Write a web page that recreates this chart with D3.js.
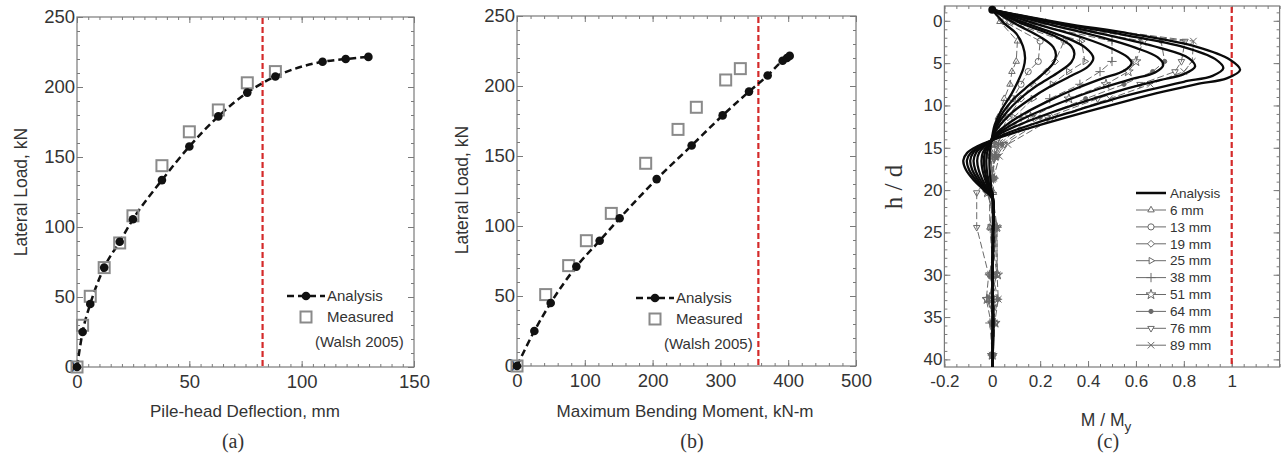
<!DOCTYPE html>
<html>
<head>
<meta charset="utf-8">
<script src="https://cdn.jsdelivr.net/npm/d3@7"></script>
<style>
  body { margin: 0; background: #fff; }
  svg text { font-family: "Liberation Sans", Arial, sans-serif; fill: #333; }
  .serif { font-family: "Liberation Serif", "Times New Roman", serif !important; }
</style>
</head>
<body>
<div id="container"></div>
<script>
/* CONSTANTS AND GLOBALS */
const width = 1283,
  height = 457;

/* DATA */
// (a) and (b): pile head load test
const analysisLoad = [0, 25, 45, 71, 89.5, 105.5, 133.5, 157.5, 179, 196, 207.5, 218, 220, 221.5];
const analysisDeflection = [0, 2.5, 5.9, 12.1, 19, 24.9, 37.8, 50, 62.9, 75.8, 88.3, 109.3, 119.6, 129.7];
const analysisMoment = [0, 25.6, 49.7, 87.5, 121.9, 151.4, 206, 257.6, 303.3, 342.2, 369.7, 391.8, 398.2, 402.2];

const measuredDeflection = [0, 2.5, 5.9, 12.1, 19, 24.9, 37.8, 50, 62.9, 75.8, 88.3];
const measuredLoadA = [0, 29.8, 50.5, 71, 88.6, 108, 143.8, 168, 183.6, 203, 211];
const measuredMoment = [0, 42.3, 76.2, 102.3, 139.1, 189.8, 237.5, 264.5, 307.8, 329.4];
const measuredLoadB = [0, 51, 71.7, 89.5, 109, 144.8, 169, 184.8, 204.3, 212.4];

const yieldDeflection = 82.6;
const yieldMoment = 356;

// (c): moment profiles, [M/My, h/d]
const analysisProfiles = [
  [[0,-1.3],[0.05,0.3],[0.1,1.5],[0.128,3.0],[0.137,4.4],[0.13,5.6],[0.116,6.6],[0.081,8.6],[0.039,10.5],[0.01,12.3],[0,13.6],[-0.007,14.8],[-0.011,15.6],[-0.012,16.5],[-0.011,17.6],[-0.007,18.9],[-0.003,20.0],[0,20.3]],
  [[0,-1.3],[0.1,0.4],[0.2,1.9],[0.255,3.1],[0.266,4.05],[0.255,5.0],[0.21,6.3],[0.15,7.7],[0.09,9.2],[0.045,10.8],[0.015,12.4],[0,13.8],[-0.013,14.8],[-0.022,15.6],[-0.025,16.5],[-0.023,17.6],[-0.016,18.9],[-0.007,20.0],[0,20.3]],
  [[0,-1.3],[0.13,0.4],[0.26,1.8],[0.33,3.0],[0.343,3.9],[0.33,4.9],[0.27,6.2],[0.19,7.6],[0.12,9.1],[0.06,10.8],[0.02,12.4],[0,13.8],[-0.018,14.8],[-0.031,15.6],[-0.035,16.5],[-0.032,17.6],[-0.022,18.9],[-0.01,20.0],[0,20.4]],
  [[0,-1.3],[0.15,0.4],[0.3,1.9],[0.39,3.2],[0.422,4.4],[0.4,5.4],[0.33,6.5],[0.24,7.8],[0.16,9.2],[0.08,10.9],[0.03,12.4],[0.005,13.5],[0,14.1],[-0.023,14.8],[-0.04,15.6],[-0.045,16.5],[-0.041,17.6],[-0.028,18.9],[-0.013,20.0],[0,20.5]],
  [[0,-1.3],[0.2,0.5],[0.38,2.0],[0.5,3.3],[0.565,4.3],[0.582,5.0],[0.55,5.9],[0.46,6.8],[0.35,8.0],[0.24,9.4],[0.13,11.0],[0.05,12.5],[0.01,13.5],[0,14.1],[-0.032,14.8],[-0.055,15.6],[-0.063,16.5],[-0.057,17.6],[-0.039,18.9],[-0.018,20.0],[0,20.6]],
  [[0,-1.3],[0.25,0.5],[0.45,1.9],[0.6,3.2],[0.69,4.3],[0.714,5.2],[0.68,6.1],[0.58,6.9],[0.45,8.0],[0.32,9.3],[0.18,10.9],[0.08,12.3],[0.02,13.4],[0,14.1],[-0.04,14.8],[-0.068,15.6],[-0.078,16.5],[-0.071,17.6],[-0.048,18.9],[-0.022,20.0],[0,20.7]],
  [[0,-1.3],[0.3,0.55],[0.5,1.8],[0.7,3.2],[0.82,4.4],[0.847,5.4],[0.8,6.3],[0.7,7.0],[0.55,8.1],[0.4,9.4],[0.25,10.8],[0.12,12.2],[0.03,13.4],[0,14.1],[-0.045,14.8],[-0.08,15.6],[-0.092,16.5],[-0.084,17.6],[-0.057,18.9],[-0.026,20.0],[0,20.8]],
  [[0,-1.3],[0.3,0.4],[0.55,1.65],[0.8,3.1],[0.93,4.5],[0.965,5.6],[0.92,6.5],[0.8,7.2],[0.65,8.2],[0.5,9.3],[0.35,10.6],[0.18,12.1],[0.05,13.4],[0,14.1],[-0.05,14.8],[-0.09,15.6],[-0.106,16.5],[-0.097,17.6],[-0.066,18.9],[-0.03,20.0],[0,20.9]],
  [[0,-1.3],[0.3,0.3],[0.575,1.5],[0.854,3.07],[0.993,4.6],[1.035,5.8],[0.979,6.8],[0.854,7.47],[0.714,8.38],[0.575,9.37],[0.4,10.7],[0.2,12.3],[0.06,13.5],[0,14.1],[-0.06,14.8],[-0.105,15.6],[-0.121,16.5],[-0.11,17.6],[-0.075,18.9],[-0.035,20.0],[0,21]]
];
const analysisTail = [[0.003,25],[0.002,30],[0.003,35],[0.002,40.9]];

const measuredDepth = [-1.3, 0.1, 2.4, 4.8, 6.0, 7.5, 9.2, 11.4, 14.6, 16.0, 18.6, 20.3, 24.4, 30.0, 32.9, 35.7, 39.5];
const measuredLabels = ['6 mm', '13 mm', '19 mm', '25 mm', '38 mm', '51 mm', '64 mm', '76 mm', '89 mm'];
const measuredProfiles = [
  [0, 0.032, 0.105, 0.10, 0.082, 0.074, 0.05, 0.025, 0.0, -0.01, 0.005, 0.005, -0.01, 0.005, -0.012, 0.005, 0],
  [0, 0.05, 0.20, 0.192, 0.15, 0.12, 0.085, 0.045, 0.005, -0.005, 0.0, -0.01, 0.012, 0.018, -0.006, 0.01, 0],
  [0, 0.07, 0.30, 0.262, 0.227, 0.17, 0.12, 0.065, 0.012, -0.01, 0.005, -0.02, 0.015, -0.01, 0.012, 0.0, 0],
  [0, 0.09, 0.372, 0.387, 0.318, 0.25, 0.17, 0.09, 0.018, 0.0, 0.01, -0.012, -0.01, 0.02, -0.016, 0.01, 0],
  [0, 0.12, 0.5, 0.5, 0.45, 0.366, 0.24, 0.12, 0.025, 0.01, -0.01, 0.0, 0.02, -0.012, 0.022, -0.01, 0],
  [0, 0.15, 0.63, 0.6, 0.568, 0.475, 0.32, 0.16, 0.03, 0.012, 0.0, -0.02, 0.018, 0.022, -0.022, 0.012, 0],
  [0, 0.17, 0.705, 0.72, 0.67, 0.55, 0.39, 0.2, 0.04, 0.015, -0.005, -0.01, 0.02, 0.0, 0.025, 0.0, 0],
  [0, 0.2, 0.805, 0.79, 0.763, 0.617, 0.44, 0.23, 0.05, 0.02, -0.02, -0.065, -0.065, -0.015, -0.025, -0.005, 0],
  [0, 0.21, 0.84, 0.835, 0.80, 0.66, 0.49, 0.26, 0.065, 0.03, 0.005, -0.02, 0.02, 0.02, 0.025, 0.01, 0]
];

const xTicksA = [0, 50, 100, 150];
const xTicksB = [0, 100, 200, 300, 400, 500];
const yTicksLoad = [0, 50, 100, 150, 200, 250];
const xTicksC = [-0.2, 0, 0.2, 0.4, 0.6, 0.8, 1];
const yTicksC = [0, 5, 10, 15, 20, 25, 30, 35, 40];

/* CREATE SVG ELEMENT */
const svg = d3.select('#container')
  .append('svg')
  .attr('width', width)
  .attr('height', height);

const frameColor = '#7a7a7a';

// box with inward ticks on all four sides
function drawFrame(x, y, xt, yt, xm, ym, xfmt, fontSize) {
  const [l, r] = x.range();
  const top = d3.min(y.range()), bottom = d3.max(y.range());
  const g = svg.append('g');

  const axes = [
    [d3.axisBottom(x), `translate(0,${bottom})`, xt, xm, true],
    [d3.axisTop(x), `translate(0,${top})`, xt, xm, false],
    [d3.axisLeft(y), `translate(${l},0)`, yt, ym, true],
    [d3.axisRight(y), `translate(${r},0)`, yt, ym, false]
  ];
  axes.forEach(([ax, tr, major, minor, labels]) => {
    g.append('g').attr('transform', tr)
      .call(ax.tickValues(minor).tickSize(-3).tickFormat(''));
    const isX = tr.indexOf('translate(0') === 0;
    g.append('g').attr('transform', tr)
      .call(ax.tickValues(major).tickSize(-6)
        .tickPadding(isX ? 8 : 2)
        .tickFormat(labels ? (isX ? xfmt : d => d) : ''));
  });
  g.selectAll('.domain').remove();
  g.selectAll('line').attr('stroke', frameColor);
  g.selectAll('text').attr('font-size', fontSize).attr('fill', '#333')
    .attr('font-family', '"Liberation Sans", Arial, sans-serif');

  g.append('rect')
    .attr('x', l).attr('y', top)
    .attr('width', r - l).attr('height', bottom - top)
    .attr('fill', 'none').attr('stroke', frameColor).attr('stroke-width', 1.2);
}

function yieldLine(x, y, v) {
  svg.append('line')
    .attr('x1', x(v)).attr('x2', x(v))
    .attr('y1', d3.min(y.range()) + 1).attr('y2', d3.max(y.range()))
    .attr('stroke', '#d42a2a')
    .attr('stroke-width', 2.2)
    .attr('stroke-dasharray', '6,3');
}

function loadPanel(x, y, xs, xm, my, xt, xm2, yv, legendX, legendY) {
  drawFrame(x, y, xt, yTicksLoad, xm2, d3.range(0, 251, 10), d => d, '18.5px');

  const line = d3.line().x(d => x(d[0])).y(d => y(d[1])).curve(d3.curveMonotoneX);
  const pts = xs.map((v, i) => [v, analysisLoad[i]]);
  const meas = xm.map((v, i) => [v, my[i]]);

  yieldLine(x, y, yv);

  svg.append('path')
    .attr('d', line(pts))
    .attr('fill', 'none')
    .attr('stroke', '#111')
    .attr('stroke-width', 2.5)
    .attr('stroke-dasharray', '7,4');

  svg.append('g').selectAll('rect')
    .data(meas)
    .join('rect')
    .attr('x', d => x(d[0]) - 5.5)
    .attr('y', d => y(d[1]) - 5.5)
    .attr('width', 11).attr('height', 11)
    .attr('fill', 'none')
    .attr('stroke', '#8a8a8a')
    .attr('stroke-width', 2);

  svg.append('g').selectAll('circle')
    .data(pts)
    .join('circle')
    .attr('cx', d => x(d[0]))
    .attr('cy', d => y(d[1]))
    .attr('r', 4.3)
    .attr('fill', '#111');

  // LEGEND
  const lg = svg.append('g').attr('transform', `translate(${legendX},${legendY})`);
  lg.append('line').attr('x1', 0).attr('x2', 38).attr('y1', 0).attr('y2', 0)
    .attr('stroke', '#111').attr('stroke-width', 2.5).attr('stroke-dasharray', '7,4');
  lg.append('circle').attr('cx', 19).attr('cy', 0).attr('r', 4.3).attr('fill', '#111');
  lg.append('text').attr('x', 40).attr('y', 0).attr('dy', '0.35em').attr('font-size', '15px').text('Analysis');
  lg.append('rect').attr('x', 13.5).attr('y', 15.5).attr('width', 11).attr('height', 11)
    .attr('fill', 'none').attr('stroke', '#8a8a8a').attr('stroke-width', 2);
  lg.append('text').attr('x', 40).attr('y', 21).attr('dy', '0.35em').attr('font-size', '15px').text('Measured');
  lg.append('text').attr('x', 28).attr('y', 46).attr('dy', '0.35em').attr('font-size', '15px').text('(Walsh 2005)');
}

/* PANEL (a) */
const xA = d3.scaleLinear().domain([0, 150]).range([77, 414]);
const yA = d3.scaleLinear().domain([0, 250]).range([367, 17]);
loadPanel(xA, yA, analysisDeflection, measuredDeflection, measuredLoadA,
  xTicksA, d3.range(0, 151, 5), yieldDeflection, 287, 296);

svg.append('text').attr('x', 21).attr('y', 192).attr('text-anchor', 'middle').attr('dy', '0.35em')
  .attr('transform', 'rotate(-90,21,192)').attr('font-size', '17.5px').text('Lateral Load, kN');
svg.append('text').attr('x', 245).attr('y', 411).attr('text-anchor', 'middle').attr('dy', '0.35em')
  .attr('font-size', '17px').text('Pile-head Deflection, mm');
svg.append('text').attr('class', 'serif').attr('x', 233).attr('y', 441).attr('text-anchor', 'middle')
  .attr('dy', '0.35em').attr('font-size', '20px').attr('fill', '#222').text('(a)');

/* PANEL (b) */
const xB = d3.scaleLinear().domain([0, 500]).range([517, 856]);
const yB = d3.scaleLinear().domain([0, 250]).range([366, 16]);
loadPanel(xB, yB, analysisMoment, measuredMoment, measuredLoadB,
  xTicksB, d3.range(0, 501, 20), yieldMoment, 636, 298);

svg.append('text').attr('x', 462).attr('y', 190).attr('text-anchor', 'middle').attr('dy', '0.35em')
  .attr('transform', 'rotate(-90,462,190)').attr('font-size', '17.5px').text('Lateral Load, kN');
svg.append('text').attr('x', 685).attr('y', 411).attr('text-anchor', 'middle').attr('dy', '0.35em')
  .attr('font-size', '17px').text('Maximum Bending Moment, kN-m');
svg.append('text').attr('class', 'serif').attr('x', 692).attr('y', 441).attr('text-anchor', 'middle')
  .attr('dy', '0.35em').attr('font-size', '20px').attr('fill', '#222').text('(b)');

/* PANEL (c) */
const xC = d3.scaleLinear().domain([-0.2, 1.2]).range([944.4, 1279.6]);
const yC = d3.scaleLinear().domain([-1.75, 40.9]).range([6, 367]);

drawFrame(xC, yC, xTicksC, yTicksC, d3.range(-0.2, 1.201, 0.05), d3.range(-1, 41, 1),
  d => d3.format('~g')(d).replace('\u2212', '-'), '17px');

yieldLine(xC, yC, 1);

const markers = [
  { type: d3.symbolTriangle2 || d3.symbolTriangle, rot: 0 },
  { type: d3.symbolCircle, rot: 0 },
  { type: d3.symbolDiamond2 || d3.symbolDiamond, rot: 0 },
  { type: d3.symbolTriangle2 || d3.symbolTriangle, rot: 90 },
  { type: d3.symbolPlus || d3.symbolCross, rot: 0 },
  { type: d3.symbolStar, rot: 0 },
  { type: d3.symbolCircle, rot: 0, fill: true },
  { type: d3.symbolTriangle2 || d3.symbolTriangle, rot: 180 },
  { type: d3.symbolTimes || d3.symbolCross, rot: 0 }
];
const measColor = '#6a6a6a';

const profileLine = d3.line().x(d => xC(d[0])).y(d => yC(d[1]));

// MEASURED PROFILES
measuredProfiles.forEach((vals, k) => {
  const pts = vals.map((v, i) => [v, measuredDepth[i]]);
  svg.append('path')
    .attr('d', profileLine(pts))
    .attr('fill', 'none')
    .attr('stroke', measColor)
    .attr('stroke-width', 1)
    .attr('stroke-dasharray', '7,3');
  const m = markers[k];
  svg.append('g').selectAll('path')
    .data(pts.slice(1))
    .join('path')
    .attr('d', d3.symbol().type(m.type).size(m.fill ? 14 : 30))
    .attr('transform', d => `translate(${xC(d[0])},${yC(d[1])}) rotate(${m.rot})`)
    .attr('fill', m.fill ? measColor : 'none')
    .attr('stroke', measColor)
    .attr('stroke-width', 1);
});

// ANALYSIS PROFILES
const smoothLine = d3.line().x(d => xC(d[0])).y(d => yC(d[1])).curve(d3.curveCatmullRom.alpha(0.5));
analysisProfiles.forEach(p => {
  svg.append('path')
    .attr('d', smoothLine(p.concat(analysisTail)))
    .attr('fill', 'none')
    .attr('stroke', '#0a0a0a')
    .attr('stroke-width', 2.3);
});
svg.append('circle').attr('cx', xC(0)).attr('cy', yC(-1.3)).attr('r', 4).attr('fill', '#0a0a0a');

// LEGEND
const lc = svg.append('g').attr('transform', 'translate(1136,193)');
lc.append('line').attr('x1', 0).attr('x2', 30).attr('y1', 0).attr('y2', 0)
  .attr('stroke', '#0a0a0a').attr('stroke-width', 2.5);
lc.append('text').attr('x', 34).attr('y', 0).attr('dy', '0.35em').attr('font-size', '13.5px').text('Analysis');
measuredLabels.forEach((lab, k) => {
  const yy = 17 + k * 16.9;
  const m = markers[k];
  lc.append('line').attr('x1', 0).attr('x2', 30).attr('y1', yy).attr('y2', yy)
    .attr('stroke', measColor).attr('stroke-width', 1);
  lc.append('path')
    .attr('d', d3.symbol().type(m.type).size(m.fill ? 14 : 30))
    .attr('transform', `translate(15,${yy}) rotate(${m.rot})`)
    .attr('fill', m.fill ? measColor : '#fff')
    .attr('stroke', measColor).attr('stroke-width', 1);
  lc.append('text').attr('x', 34).attr('y', yy).attr('dy', '0.35em').attr('font-size', '13.5px').text(lab);
});

// AXIS TITLES
svg.append('text').attr('class', 'serif').attr('x', 893).attr('y', 187).attr('text-anchor', 'middle')
  .attr('dy', '0.35em').attr('transform', 'rotate(-90,893,187)').attr('font-size', '25px').attr('fill', '#222')
  .text('h / d');
const mt = svg.append('text').attr('x', 1106).attr('y', 420).attr('text-anchor', 'middle')
  .attr('dy', '0.35em').attr('font-size', '17.5px');
mt.append('tspan').text('M / M');
mt.append('tspan').attr('dy', '5').attr('font-size', '13.5px').text('y');
svg.append('text').attr('class', 'serif').attr('x', 1108).attr('y', 441).attr('text-anchor', 'middle')
  .attr('dy', '0.35em').attr('font-size', '20px').attr('fill', '#222').text('(c)');
</script>
</body>
</html>
